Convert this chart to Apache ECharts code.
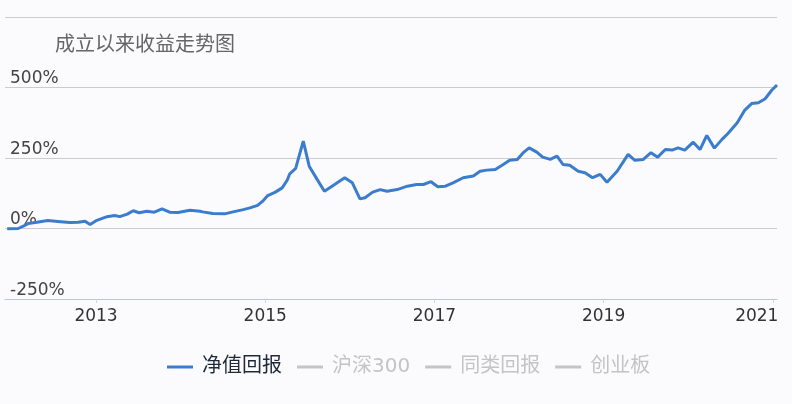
<!DOCTYPE html>
<html>
<head>
<meta charset="utf-8">
<script src="https://cdn.jsdelivr.net/npm/echarts@6/dist/echarts.min.js"></script>
<style>
  html, body { margin: 0; padding: 0; background: #fbfbfd; }
  #main { width: 792px; height: 404px; }
</style>
</head>
<body>
<div id="main"></div>
<script>
// x positions are decimal years
var years = [
  2011.95, 2012.08, 2012.14, 2012.20, 2012.30, 2012.43, 2012.55, 2012.69, 2012.79, 2012.87,
  2012.93, 2013.01, 2013.13, 2013.22, 2013.28, 2013.37, 2013.44, 2013.51, 2013.60, 2013.69,
  2013.78, 2013.87, 2013.97, 2014.11, 2014.23, 2014.26, 2014.38, 2014.52, 2014.62, 2014.74,
  2014.82, 2014.91, 2014.97, 2015.03, 2015.12, 2015.20, 2015.26, 2015.29, 2015.36, 2015.45,
  2015.52, 2015.61, 2015.70, 2015.79, 2015.86, 2015.94, 2016.03, 2016.12, 2016.18, 2016.27,
  2016.36, 2016.44, 2016.56, 2016.68, 2016.79, 2016.87, 2016.96, 2017.04, 2017.13, 2017.22,
  2017.34, 2017.46, 2017.54, 2017.62, 2017.72, 2017.80, 2017.89, 2017.98, 2018.05, 2018.12,
  2018.21, 2018.28, 2018.37, 2018.45, 2018.52, 2018.60, 2018.70, 2018.78, 2018.87, 2018.96,
  2019.04, 2019.16, 2019.29, 2019.37, 2019.47, 2019.56, 2019.64, 2019.73, 2019.81, 2019.88,
  2019.96, 2020.06, 2020.14, 2020.22, 2020.31, 2020.40, 2020.47, 2020.58, 2020.67, 2020.75,
  2020.83, 2020.91, 2020.99, 2021.05
];

// 净值回报, percent
var navReturn = [
  -1, 0, 8, 18, 22, 28, 25, 21, 22, 26,
  14, 29, 42, 46, 42, 51, 63, 56, 61, 58,
  70, 58, 57, 65, 61, 59, 53, 52, 59, 67,
  73, 82, 97, 117, 129, 144, 171, 194, 213, 310,
  221, 176, 132, 150, 164, 180, 162, 105, 109, 129,
  138, 132, 138, 150, 156, 156, 166, 148, 150, 162,
  180, 186, 203, 207, 209, 224, 242, 245, 269, 286,
  271, 253, 245, 257, 227, 224, 203, 198, 180, 192,
  164, 203, 263, 242, 245, 269, 253, 280, 278, 286,
  278, 306, 280, 330, 285, 316, 337, 375, 420, 443,
  446, 460, 491, 509
];

// the other legend entries are switched off in the picture
var hs300 = [];
var peerReturn = [];
var chiNext = [];

var seriesNames = ['净值回报', '沪深300', '同类回报', '创业板'];
var yearTicks = [2013, 2015, 2017, 2019, 2021];

function pairs(xs, ys) {
  var out = [];
  for (var i = 0; i < ys.length; i++) {
    out.push([xs[i], ys[i]]);
  }
  return out;
}

var numFont = 'DejaVu Sans';
var cjkFont = '"DejaVu Sans", "Noto Sans CJK SC"';

var myChart = echarts.init(document.getElementById('main'));

var option = {
  backgroundColor: '#fbfbfd',
  animation: false,
  title: {
    text: '成立以来收益走势图',
    left: 55,
    top: 36,
    padding: 0,
    textStyle: {
      fontFamily: cjkFont,
      fontSize: 20,
      fontWeight: 'normal',
      color: '#666'
    }
  },
  legend: {
    data: seriesNames,
    left: 167,
    top: 357,
    padding: 0,
    itemGap: 15,
    itemWidth: 26,
    itemHeight: 3,
    icon: 'rect',
    inactiveColor: '#c4c4c4',
    selected: {
      '净值回报': true,
      '沪深300': false,
      '同类回报': false,
      '创业板': false
    },
    textStyle: {
      fontFamily: cjkFont,
      fontSize: 20,
      color: '#1e2a3a',
      padding: [0, 0, 0, 4]
    }
  },
  grid: {
    left: 5,
    right: 15,
    top: 17,
    bottom: 105,
    containLabel: false
  },
  xAxis: {
    type: 'value',
    min: 2011.924,
    max: 2021.05,
    splitLine: { show: false },
    axisLine: {
      onZero: false,
      lineStyle: { color: '#b9c7da', width: 1 }
    },
    axisTick: {
      show: true,
      length: 4,
      customValues: yearTicks,
      lineStyle: { color: '#d0d6de' }
    },
    axisLabel: {
      customValues: yearTicks,
      margin: 9,
      fontFamily: numFont,
      fontSize: 17,
      color: '#333',
      formatter: function (v) {
        return v === 2021 ? '{e|2021}' : String(v);
      },
      rich: {
        e: {
          fontFamily: numFont,
          fontSize: 17,
          color: '#333',
          padding: [0, 32, 0, 0]
        }
      }
    }
  },
  yAxis: {
    type: 'value',
    min: -250,
    max: 750,
    interval: 250,
    axisLine: { show: false },
    axisTick: { show: false },
    splitLine: {
      lineStyle: { color: '#cccccc', width: 1 }
    },
    axisLabel: {
      inside: true,
      margin: 5,
      verticalAlign: 'bottom',
      padding: [0, 0, 0, 0],
      fontFamily: numFont,
      fontSize: 17,
      color: '#444',
      formatter: function (v) {
        return v === 750 ? '' : v + '%';
      }
    }
  },
  series: [
    {
      name: '净值回报',
      type: 'line',
      data: pairs(years, navReturn),
      showSymbol: false,
      smooth: false,
      color: '#3b7ccc',
      lineStyle: { width: 3, color: '#3b7ccc' },
      z: 5
    },
    {
      name: '沪深300',
      type: 'line',
      data: pairs(years, hs300),
      showSymbol: false,
      color: '#e06666'
    },
    {
      name: '同类回报',
      type: 'line',
      data: pairs(years, peerReturn),
      showSymbol: false,
      color: '#f0a030'
    },
    {
      name: '创业板',
      type: 'line',
      data: pairs(years, chiNext),
      showSymbol: false,
      color: '#66aa66'
    }
  ]
};

myChart.setOption(option);
</script>
</body>
</html>
